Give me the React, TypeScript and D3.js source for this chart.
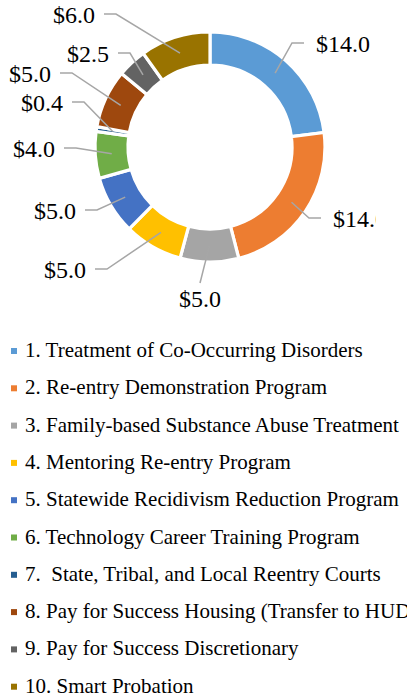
import React from "react";
import * as d3 from "d3";

const categories = [
  "1. Treatment of Co-Occurring Disorders",
  "2. Re-entry Demonstration Program",
  "3. Family-based Substance Abuse Treatment",
  "4. Mentoring Re-entry Program",
  "5. Statewide Recidivism Reduction Program",
  "6. Technology Career Training Program",
  "7.  State, Tribal, and Local Reentry Courts",
  "8. Pay for Success Housing (Transfer to HUD)",
  "9. Pay for Success Discretionary",
  "10. Smart Probation",
];
const values = [14.0, 14.0, 5.0, 5.0, 5.0, 4.0, 0.4, 5.0, 2.5, 6.0];
const colors = [
  "#5B9BD5", "#ED7D31", "#A5A5A5", "#FFC000", "#4472C4",
  "#70AD47", "#255E91", "#9E480E", "#636363", "#997300",
];
// label placement (offset of text start/baseline from the donut centre) and leader side
const labelOffsets: [number, number, string][] = [
  [106, -95, "right"],
  [123, 80, "right"],
  [-31, 160, "below"],
  [-166, 131, "left"],
  [-176, 72, "left"],
  [-197, 10, "left"],
  [-189, -36, "left"],
  [-201, -65, "left"],
  [-143, -85, "left"],
  [-157, -124, "left"],
];

const W = 407;
const H = 698;
const cx = 210;
const cy = 147;
const outerR = 115;
const innerR = 82;
const labelFont = 24;
const legendFont = 21;
const FONT = "'Liberation Serif', 'Times New Roman', 'DejaVu Serif', serif";

function measure(text: string, size: number) {
  const c = document.createElement("canvas").getContext("2d");
  if (!c) return text.length * size * 0.45;
  c.font = `${size}px ${FONT}`;
  return c.measureText(text).width;
}

export default function App() {
  const fmt = d3.format("$.1f");
  const pie = d3.pie<number>().sort(null).value((d) => d);
  const arcs = pie(values);
  const arc = d3.arc<d3.PieArcDatum<number>>().innerRadius(innerR).outerRadius(outerR);
  const mid = d3.arc<d3.PieArcDatum<number>>().innerRadius((innerR + outerR) / 2).outerRadius((innerR + outerR) / 2);
  const line = d3.line();

  return (
    <svg width={W} height={H} style={{ position: "absolute", left: 0, top: 0, background: "#fff" }}>
      <defs>
        <clipPath id="lblclip">
          <rect x={0} y={0} width={376} height={330} />
        </clipPath>
      </defs>
      <g transform={`translate(${cx},${cy})`}>
        {arcs.map((a, i) => (
          <path key={i} d={arc(a) || ""} fill={colors[i]} stroke="#fff" strokeWidth={3.2} />
        ))}
      </g>
      <g clipPath="url(#lblclip)">
        {arcs.map((a, i) => {
          const [ox, oy, side] = labelOffsets[i];
          const tx = cx + ox;
          const ty = cy + oy;
          const txt = fmt(values[i]);
          const w = measure(txt, labelFont);
          const [mx, my] = mid.centroid(a);
          const px = cx + mx;
          const py = cy + my;
          let pts: [number, number][];
          if (side === "left") {
            const sx = tx + w + 9;
            pts = [[sx, ty - 9], [sx + 12, ty - 9], [px, py]];
          } else if (side === "right") {
            const sx = tx - 12;
            pts = [[sx, ty - 9], [sx - 12, ty - 9], [px, py]];
          } else {
            pts = [[tx + w / 2, ty - labelFont], [px, py]];
          }
          return (
            <g key={i}>
              <path d={line(pts) || ""} fill="none" stroke="#A6A6A6" strokeWidth={1.5} />
              <text x={tx} y={ty} fontSize={labelFont} fill="#000" fontFamily={FONT}>{txt}</text>
            </g>
          );
        })}
      </g>
      <g>
        {categories.map((c, i) => {
          const by = 357 + i * 37.3;
          return (
            <g key={i}>
              <rect x={11} y={by - 9} width={6} height={6} fill={colors[i]} />
              <text x={25} y={by} fontSize={legendFont} fill="#000" fontFamily={FONT} style={{ whiteSpace: "pre" }}>{c}</text>
            </g>
          );
        })}
      </g>
    </svg>
  );
}
